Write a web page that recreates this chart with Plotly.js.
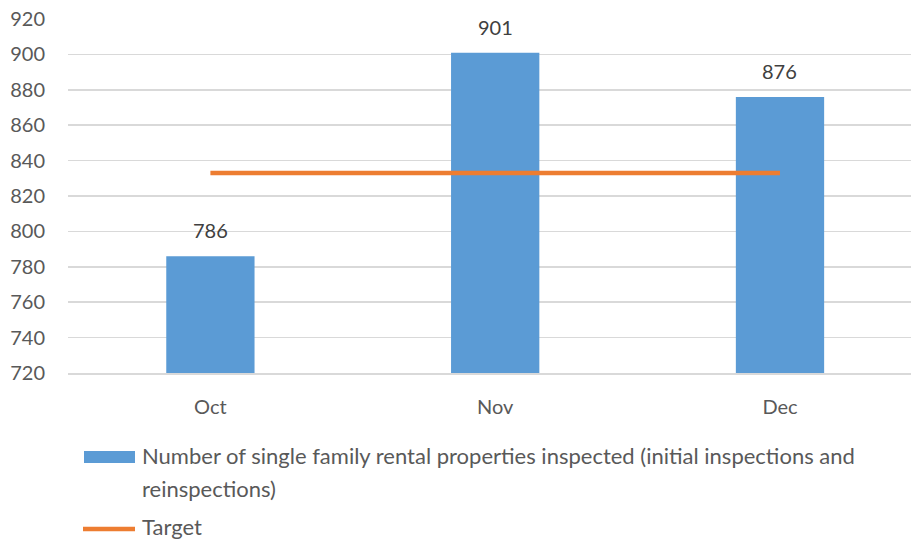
<!DOCTYPE html>
<html>
<head>
<meta charset="utf-8">
<script src="https://cdn.plot.ly/plotly-3.0.1.min.js"></script>
<style>html,body{margin:0;padding:0;background:#fff;}#chart{width:911px;height:542px;}</style>
</head>
<body>
<div id="chart"></div>
<script>
const months = ["Oct", "Nov", "Dec"];
const inspected = [786, 901, 876];
const target = [833, 833, 833];
const seriesNameLines = ["Number of single family rental properties inspected (initial inspections and", "reinspections)"];
const targetName = "Target";
const yTicks = [720, 740, 760, 780, 800, 820, 840, 860, 880, 900, 920];

const FONT = "Lato, sans-serif";
const TXT = "#595959";
const FS = 20;
const LFS = 22;

const traces = [
  {
    type: "bar", x: months, y: inspected, width: 0.31,
    marker: {color: "#5B9BD5"}, name: seriesNameLines.join(" "), showlegend: false,
    hoverinfo: "skip"
  },
  {
    type: "scatter", mode: "lines", x: months, y: target,
    line: {color: "#ED7D31", width: 4.5}, name: targetName, showlegend: false,
    hoverinfo: "skip"
  }
];

const annotations = months.map((m, i) => ({
  x: m, y: inspected[i], xref: "x", yref: "y", text: String(inspected[i]),
  showarrow: false, yanchor: "bottom", yshift: 12,
  font: {family: FONT, size: FS, color: "#404040"}
}));

function px2x(p) { return (p - 68) / 843; }
function py2y(p) { return 1 - (p - 19) / 354; }
[[seriesNameLines[0], 456], [seriesNameLines[1], 488], [targetName, 526]].forEach(([t, py]) => {
  annotations.push({
    xref: "paper", yref: "paper", x: px2x(140), y: py2y(py), xanchor: "left", yanchor: "middle",
    align: "left", showarrow: false, text: t,
    font: {family: FONT, size: LFS, color: TXT}
  });
});

const shapes = [
  {type: "rect", xref: "paper", yref: "paper", x0: px2x(84), x1: px2x(135), y0: py2y(451), y1: py2y(463),
   fillcolor: "#5B9BD5", line: {width: 0}},
  {type: "line", xref: "paper", yref: "paper", x0: px2x(83), x1: px2x(135), y0: py2y(529), y1: py2y(529),
   line: {color: "#ED7D31", width: 4.5}}
];

const layout = {
  width: 911, height: 542,
  margin: {l: 68, r: 0, t: 19, b: 169, pad: 0},
  paper_bgcolor: "#fff", plot_bgcolor: "#fff",
  font: {family: FONT, size: FS, color: TXT},
  showlegend: false,
  xaxis: {
    type: "category", range: [-0.5, 2.46], showgrid: false,
    showline: true, linecolor: "#D9D9D9", linewidth: 1.5,
    ticks: "", ticklabelstandoff: 15, tickfont: {family: FONT, size: FS, color: TXT},
    fixedrange: true
  },
  yaxis: {
    range: [720, 920], tickvals: yTicks, ticktext: yTicks.map(String),
    showgrid: true, gridcolor: "#D9D9D9", gridwidth: 1.5, zeroline: false,
    showline: false, ticks: "", ticklabelstandoff: 22,
    tickfont: {family: FONT, size: FS, color: TXT}, fixedrange: true
  },
  annotations: annotations,
  shapes: shapes,
  bargap: 0.69
};

Plotly.newPlot("chart", traces, layout, {displayModeBar: false, staticPlot: true});
</script>
</body>
</html>
